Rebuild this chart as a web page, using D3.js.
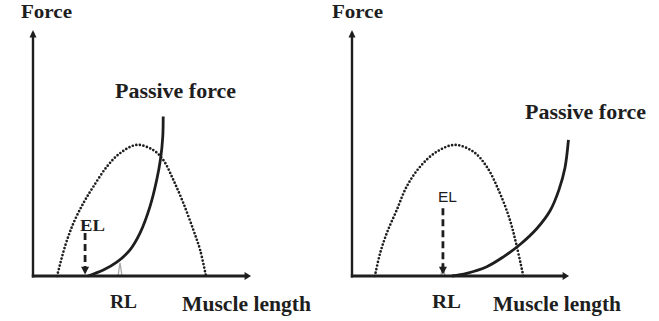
<!DOCTYPE html>
<html>
<head>
<meta charset="utf-8">
<script src="https://cdn.jsdelivr.net/npm/d3@7"></script>
<style>
  body { margin: 0; background: #fff; }
  svg text { font-family: "Liberation Serif"; font-weight: bold; fill: #1e1e1e; }
</style>
</head>
<body>
<div id="chart"></div>
<script>
// muscle length (0-100) vs force (0-100)

// left panel: active (dotted) and passive force curves
const leftActiveX = [11.1, 14.7, 18.6, 23.2, 27.8, 34.0, 40.1, 47.8, 55.4, 60.0, 64.7, 69.3, 73.9, 77.0, 79.7];
const leftActiveY = [0, 11.9, 21.4, 29.6, 36.3, 44.4, 49.9, 53.3, 51.2, 47.2, 39.0, 29.6, 18.7, 10.6, 0];
const leftPassiveX = [25.3, 32.4, 38.6, 44.7, 49.3, 53.9, 57.0, 58.8, 59.8, 60.0];
const leftPassiveY = [0, 2.4, 5.6, 10.6, 17.4, 28.2, 39.0, 47.8, 56.6, 64.8];

// right panel
const rightActiveX = [10.6, 13.0, 16.1, 20.7, 25.3, 31.5, 39.2, 47.7, 56.2, 62.4, 68.5, 73.1, 76.3, 79.3];
const rightActiveY = [0, 9.2, 17.4, 26.8, 36.3, 44.4, 50.5, 53.3, 50.5, 44.4, 33.6, 22.8, 12.0, 0];
const rightPassiveX = [46.2, 53.1, 62.4, 70.1, 77.8, 85.5, 91.7, 95.8, 98.6, 100.2];
const rightPassiveY = [0, 1.1, 3.8, 7.8, 12.8, 19.2, 26.5, 35.0, 44.0, 55.3];

// markers: equilibrium length (EL) and resting length (RL)
const elPositions = [24.0, 42.1];
const rlPositions = [40.1, 42.1];
const elTopForce = [17.5, 27.5];

const labels = { y: "Force", x: "Muscle length", passive: "Passive force", el: "EL", rl: "RL" };

const W = 659, H = 321;
const svg = d3.select("#chart").append("svg").attr("width", W).attr("height", H);

const zip = (xs, ys) => xs.map((x, i) => [x, ys[i]]);

const panels = [
  { x0: 33, x1: 250, active: zip(leftActiveX, leftActiveY), passive: zip(leftPassiveX, leftPassiveY),
    el: elPositions[0], rl: rlPositions[0], elTop: elTopForce[0],
    forceLbl: [21, 51], passiveLbl: [115, 98, 121], muscleLbl: [182, 129], rlLbl: [110, 27],
    elLbl: { x: 80, y: 230.5, w: 25, serif: true, size: 16 } },
  { x0: 352, x1: 568, active: zip(rightActiveX, rightActiveY), passive: zip(rightPassiveX, rightPassiveY),
    el: elPositions[1], rl: rlPositions[1], elTop: elTopForce[1],
    forceLbl: [332, 51], passiveLbl: [525, 119, 121], muscleLbl: [493, 128], rlLbl: [432, 29],
    elLbl: { x: 438, y: 202, w: 19, serif: false, size: 14.5 } }
];

const ink = "#1e1e1e";
const smooth = d3.curveCatmullRom.alpha(0.5);

panels.forEach((p, i) => {
  const x = d3.scaleLinear().domain([0, 100]).range([p.x0, p.x1]);
  const y = d3.scaleLinear().domain([0, 100]).range([276, 30]);
  const g = svg.append("g");
  const line = d3.line().x(d => x(d[0])).y(d => y(d[1])).curve(smooth);

  // active force, dotted
  g.append("path")
    .datum(p.active)
    .attr("fill", "none")
    .attr("stroke", ink)
    .attr("stroke-width", 2.7)
    .attr("stroke-linecap", "round")
    .attr("stroke-dasharray", "0,3.6")
    .attr("d", line);

  // passive force, solid
  g.append("path")
    .datum(p.passive)
    .attr("fill", "none")
    .attr("stroke", ink)
    .attr("stroke-width", 2.8)
    .attr("d", line);

  // RL small grey mark
  const rx = x(p.rl);
  g.append("path")
    .attr("d", `M${rx - 2},${y(0)} L${rx},${y(5.3)} L${rx + 2},${y(0)}`)
    .attr("fill", "none")
    .attr("stroke", "#a8a8a8")
    .attr("stroke-width", 1.3);

  // EL dashed arrow
  const ex = x(p.el);
  g.append("line")
    .attr("x1", ex).attr("x2", ex)
    .attr("y1", y(p.elTop)).attr("y2", y(3.5))
    .attr("stroke", ink)
    .attr("stroke-width", 2.8)
    .attr("stroke-dasharray", "7,4");
  g.append("path")
    .attr("d", `M${ex - 4},${y(3.8)} L${ex + 4},${y(3.8)} L${ex},${y(0.6)} Z`)
    .attr("fill", ink);

  // axes
  g.append("line").attr("x1", x(0)).attr("x2", x(0)).attr("y1", y(0) + 1.5).attr("y2", y(99))
    .attr("stroke", ink).attr("stroke-width", 2.4);
  g.append("path").attr("d", `M${x(0) - 3.5},${y(97)} L${x(0)},${y(100)} L${x(0) + 3.5},${y(97)} Z`).attr("fill", ink);
  g.append("line").attr("x1", x(0) - 1.2).attr("x2", x(99)).attr("y1", y(0)).attr("y2", y(0))
    .attr("stroke", ink).attr("stroke-width", 3.2);
  g.append("path").attr("d", `M${x(97.5)},${y(0) - 4} L${x(100.5)},${y(0)} L${x(97.5)},${y(0) + 4} Z`).attr("fill", ink);

  // labels
  g.append("text").attr("x", p.forceLbl[0]).attr("y", 18).attr("font-size", 18)
    .attr("textLength", p.forceLbl[1]).attr("lengthAdjust", "spacingAndGlyphs").text(labels.y);
  g.append("text").attr("x", p.passiveLbl[0]).attr("y", p.passiveLbl[1]).attr("font-size", 20)
    .attr("textLength", p.passiveLbl[2]).attr("lengthAdjust", "spacingAndGlyphs").text(labels.passive);
  g.append("text").attr("x", p.muscleLbl[0]).attr("y", 311).attr("font-size", 20)
    .attr("textLength", p.muscleLbl[1]).attr("lengthAdjust", "spacingAndGlyphs").text(labels.x);
  g.append("text").attr("x", p.rlLbl[0]).attr("y", 308).attr("font-size", 19)
    .attr("textLength", p.rlLbl[1]).attr("lengthAdjust", "spacingAndGlyphs").text(labels.rl);
  g.append("text").attr("x", p.elLbl.x).attr("y", p.elLbl.y).attr("font-size", p.elLbl.size)
    .style("font-family", p.elLbl.serif ? null : "'Liberation Sans', Arial, sans-serif")
    .style("font-weight", p.elLbl.serif ? "bold" : "normal")
    .attr("textLength", p.elLbl.w).attr("lengthAdjust", "spacingAndGlyphs").text(labels.el);
});
</script>
</body>
</html>
